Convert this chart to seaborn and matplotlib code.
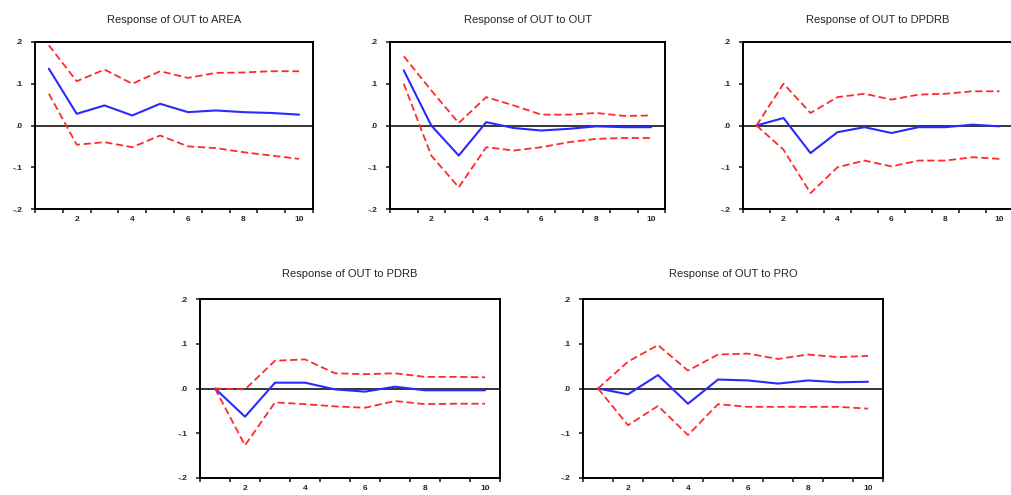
import numpy as np
import pandas as pd
import seaborn as sns
import matplotlib.pyplot as plt
from matplotlib.ticker import FixedLocator, FixedFormatter

periods = list(range(1, 11))

shocks = ["AREA", "OUT", "DPDRB", "PDRB", "PRO"]

# impulse responses of OUT
resp_area = [0.136, 0.028, 0.048, 0.024, 0.052, 0.032, 0.036, 0.032, 0.030, 0.026]
upper_area = [0.192, 0.106, 0.134, 0.100, 0.130, 0.114, 0.126, 0.127, 0.130, 0.130]
lower_area = [0.076, -0.046, -0.040, -0.052, -0.024, -0.050, -0.054, -0.064, -0.072, -0.080]

resp_out = [0.132, 0.000, -0.072, 0.008, -0.006, -0.012, -0.008, -0.002, -0.004, -0.004]
upper_out = [0.166, 0.084, 0.006, 0.068, 0.048, 0.026, 0.026, 0.030, 0.023, 0.024]
lower_out = [0.100, -0.072, -0.148, -0.052, -0.060, -0.052, -0.040, -0.032, -0.030, -0.030]

resp_dpdrb = [0.0, 0.018, -0.066, -0.016, -0.004, -0.018, -0.004, -0.004, 0.002, -0.002]
upper_dpdrb = [0.0, 0.100, 0.030, 0.068, 0.076, 0.062, 0.074, 0.076, 0.082, 0.082]
lower_dpdrb = [0.0, -0.058, -0.162, -0.100, -0.084, -0.098, -0.084, -0.084, -0.076, -0.080]

resp_pdrb = [0.0, -0.063, 0.013, 0.013, -0.002, -0.007, 0.004, -0.004, -0.004, -0.004]
upper_pdrb = [0.0, -0.002, 0.062, 0.065, 0.034, 0.032, 0.034, 0.026, 0.026, 0.025]
lower_pdrb = [0.0, -0.127, -0.031, -0.035, -0.040, -0.043, -0.028, -0.035, -0.034, -0.034]

resp_pro = [0.0, -0.013, 0.030, -0.034, 0.020, 0.018, 0.011, 0.018, 0.014, 0.015]
upper_pro = [0.0, 0.060, 0.097, 0.040, 0.076, 0.078, 0.066, 0.076, 0.070, 0.073]
lower_pro = [0.0, -0.082, -0.039, -0.104, -0.035, -0.041, -0.041, -0.041, -0.041, -0.045]

titles = {
    "AREA": "Response of OUT to AREA",
    "OUT": "Response of OUT to OUT",
    "DPDRB": "Response of OUT to DPDRB",
    "PDRB": "Response of OUT to PDRB",
    "PRO": "Response of OUT to PRO",
}

series = {
    "AREA": (resp_area, upper_area, lower_area),
    "OUT": (resp_out, upper_out, lower_out),
    "DPDRB": (resp_dpdrb, upper_dpdrb, lower_dpdrb),
    "PDRB": (resp_pdrb, upper_pdrb, lower_pdrb),
    "PRO": (resp_pro, upper_pro, lower_pro),
}

rows = []
for shock, (r, u, l) in series.items():
    for band, vals in (("resp", r), ("upper", u), ("lower", l)):
        for p, v in zip(periods, vals):
            rows.append({"shock": shock, "band": band, "period": p, "value": v})
df = pd.DataFrame(rows)

sns.set_style("white")
plt.rcParams["font.family"] = ["Liberation Sans", "DejaVu Sans"]

W, H = 1011, 495
fig = plt.figure(figsize=(W / 100, H / 100), dpi=100)

# axes boxes in pixels: left, right, top, bottom
boxes = {
    "AREA": (35, 313, 42, 209),
    "OUT": (390, 665, 42, 209),
    "DPDRB": (743, 1013, 42, 209),
    "PDRB": (200, 500, 299, 478),
    "PRO": (583, 883, 299, 478),
}

for shock in shocks:
    l, r, t, b = boxes[shock]
    ax = fig.add_axes([l / W, 1 - b / H, (r - l) / W, (b - t) / H])
    sub = df[df["shock"] == shock]
    sns.lineplot(data=sub[sub["band"] == "resp"], x="period", y="value",
                 color="#2a2aff", linewidth=1.5, ax=ax)
    for band in ("upper", "lower"):
        sns.lineplot(data=sub[sub["band"] == band], x="period", y="value",
                     color="#ff2a2a", linewidth=1.3, linestyle=(0, (4, 2)), ax=ax)
    ax.axhline(0, color="black", linewidth=1.1, zorder=1)

    ax.set_xlim(0.5, 10.5)
    ax.set_ylim(-0.2, 0.2)
    ax.set_xlabel("")
    ax.set_ylabel("")
    ax.set_title(titles[shock], fontsize=8, pad=14 if t < 100 else 16)

    ax.set_yticks([-0.2, -0.1, 0.0, 0.1, 0.2])
    ax.set_yticklabels(["-.2", "-.1", ".0", ".1", ".2"], fontsize=6, fontweight="bold")
    ax.xaxis.set_major_locator(FixedLocator([2, 4, 6, 8, 10]))
    ax.xaxis.set_major_formatter(FixedFormatter(["2", "4", "6", "8", "10"]))
    ax.xaxis.set_minor_locator(FixedLocator(np.arange(0.5, 11, 1.0)))
    ax.tick_params(axis="x", which="major", length=0, labelsize=6, pad=5)
    ax.tick_params(axis="x", which="minor", length=3, width=1.2, direction="out", bottom=True)
    ax.tick_params(axis="y", length=3, width=1.2, direction="out", left=True, pad=6)
    for lab in ax.get_xticklabels():
        lab.set_fontweight("bold")
    for sp in ax.spines.values():
        sp.set_color("black")
        sp.set_linewidth(1.4)

fig.savefig("out.png", dpi=100)
